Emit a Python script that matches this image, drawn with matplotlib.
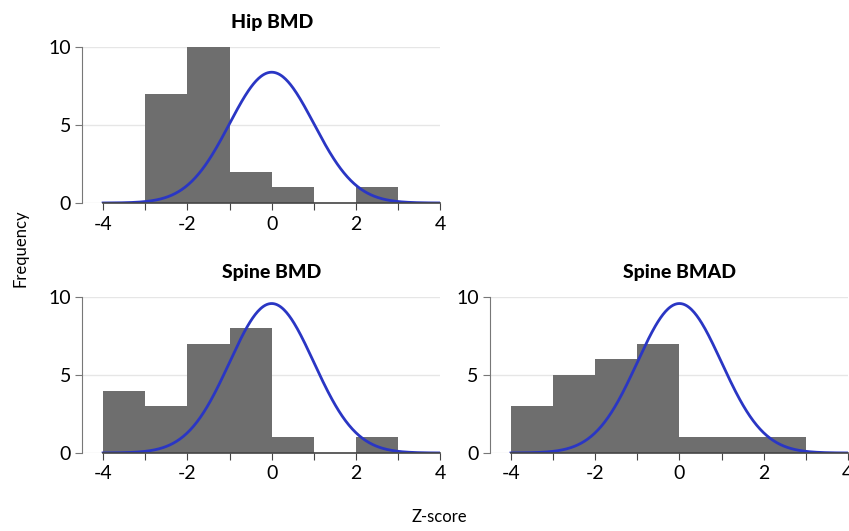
import numpy as np
import matplotlib
matplotlib.use("Agg")
import matplotlib.pyplot as plt

plt.rcParams['font.family'] = ['Lato', 'DejaVu Sans']

# histogram bins (left edges, width 1) and counts
bin_left = [-4, -3, -2, -1, 0, 1, 2]
hip_bmd = [0, 7, 10, 2, 1, 0, 1]
spine_bmd = [4, 3, 7, 8, 1, 0, 1]
spine_bmad = [3, 5, 6, 7, 1, 1, 1]

panels = [
    ("Hip BMD", hip_bmd, [0.0966, 0.6177, 0.422, 0.294]),
    ("Spine BMD", spine_bmd, [0.0966, 0.1469, 0.422, 0.294]),
    ("Spine BMAD", spine_bmad, [0.577, 0.1469, 0.4217, 0.294]),
]

bar_color = "#6e6e6e"
curve_color = "#2a36c4"

fig = plt.figure(figsize=(8.49, 5.31), dpi=100)

for title, counts, pos in panels:
    ax = fig.add_axes(pos)
    ax.bar(bin_left, counts, width=1, align="edge", color=bar_color,
           edgecolor="none", zorder=2)

    # expected normal curve for n subjects, bin width 1
    n = sum(counts)
    xs = np.linspace(-4, 4, 400)
    ax.plot(xs, n * np.exp(-xs ** 2 / 2) / np.sqrt(2 * np.pi),
            color=curve_color, lw=2, zorder=3)

    ax.set_xlim(-4.5, 4.0)
    ax.set_ylim(0, 10)
    ax.set_xticks(range(-4, 5))
    ax.set_xticklabels([str(t) if t % 2 == 0 else "" for t in range(-4, 5)])
    ax.set_yticks([0, 5, 10])

    for s in ["top", "right"]:
        ax.spines[s].set_visible(False)
    ax.spines["left"].set_bounds(0, 10)
    ax.spines["left"].set_color("#777777")
    ax.spines["bottom"].set_bounds(-4, 4)
    ax.spines["bottom"].set_color("#444444")
    ax.spines["bottom"].set_linewidth(1.2)
    ax.spines["bottom"].set_zorder(4)

    ax.yaxis.grid(True, color="#e6e6e6", lw=1)
    ax.set_axisbelow(True)
    ax.tick_params(axis="x", length=5, color="#444444", labelsize=14, pad=4)
    ax.tick_params(axis="y", length=5, color="#777777", labelsize=14, pad=3)

    ax.text(0, 11.0, title, ha="center", va="bottom", fontsize=14,
            fontweight="black", clip_on=False)

fig.text(0.024, 0.533, "Frequency", rotation=90, ha="center", va="center",
         fontsize=12)
fig.text(0.518, 0.026, "Z-score", ha="center", va="center", fontsize=12)

fig.savefig("out.png", dpi=100)
